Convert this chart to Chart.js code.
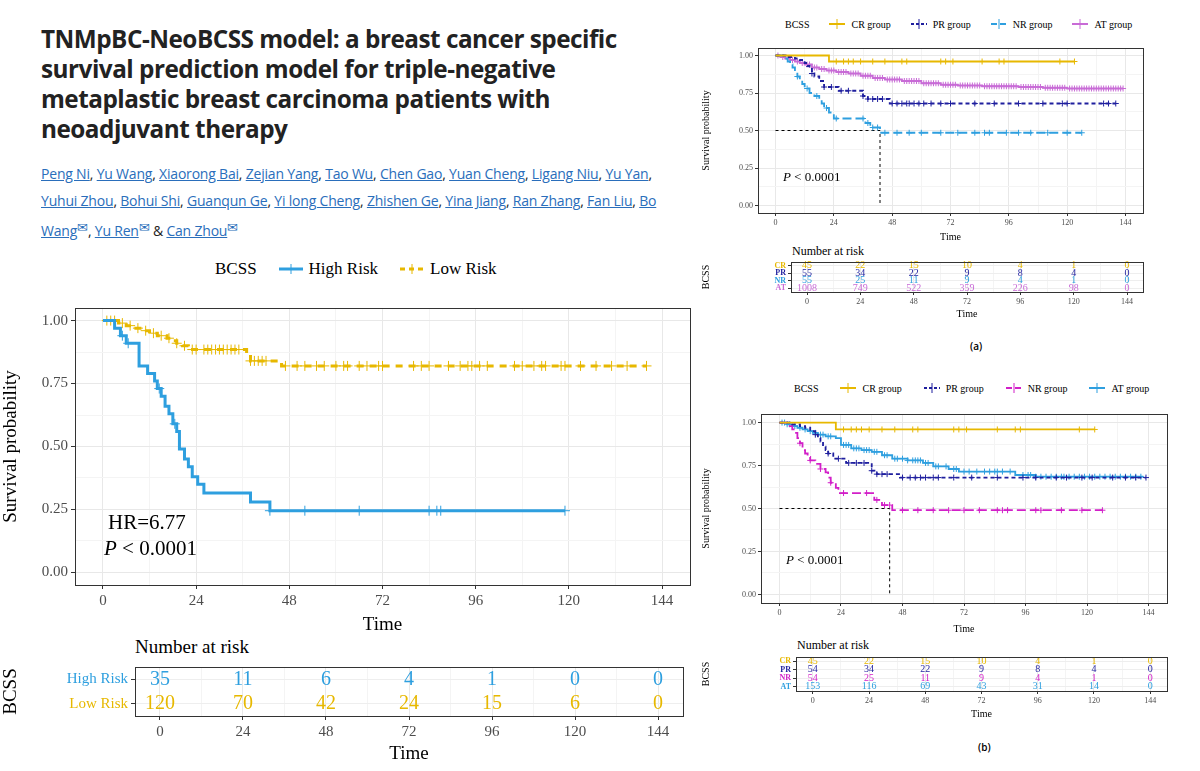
<!DOCTYPE html>
<html>
<head>
<meta charset="utf-8">
<script src="https://cdn.jsdelivr.net/npm/chart.js@4"></script>
<style>
  body { margin: 0; width: 1200px; height: 771px; background: #fff; position: relative; overflow: hidden; }
  canvas, .t { position: absolute; }
  .t { white-space: nowrap; font-family: "Liberation Serif", serif; color: #000; }
  h1 { position: absolute; left: 41px; top: 24px; margin: 0; font: 700 24.3px/30px "Open Sans", sans-serif; color: #222; letter-spacing: -0.5px; width: 640px; }
  .authors { position: absolute; left: 41px; top: 160px; width: 635px; font: 14px/27px "Open Sans", sans-serif; color: #222; letter-spacing: -0.2px; }
  .authors a { color: #2a6ebb; text-decoration: underline; }
  .authors b { color: #2a6ebb; font-weight: normal; font-size: 13px; vertical-align: 4px; }
  .leg { position: absolute; display: flex; align-items: center; font-family: "Liberation Serif", serif; white-space: nowrap; }
  .leg svg { margin: 0 6px 0 0; }
  .leg span.i { display: flex; align-items: center; }
  .cap { position: absolute; font: 600 10px "Open Sans", sans-serif; }
</style>
</head>
<body>
<h1>TNMpBC-NeoBCSS model: a breast cancer specific survival prediction model for triple-negative metaplastic breast carcinoma patients with neoadjuvant therapy</h1>
<div class="authors"><a>Peng Ni</a>, <a>Yu Wang</a>, <a>Xiaorong Bai</a>, <a>Zejian Yang</a>, <a>Tao Wu</a>, <a>Chen Gao</a>, <a>Yuan Cheng</a>, <a>Ligang Niu</a>, <a>Yu Yan</a>, <a>Yuhui Zhou</a>, <a>Bohui Shi</a>, <a>Guanqun Ge</a>, <a>Yi long Cheng</a>, <a>Zhishen Ge</a>, <a>Yina Jiang</a>, <a>Ran Zhang</a>, <a>Fan Liu</a>, <a>Bo Wang</a><b>&#x2709;</b>, <a>Yu Ren</a><b>&#x2709;</b> &amp; <a>Can Zhou</a><b>&#x2709;</b></div>

<div id="legMain" class="leg" style="left:215px;top:259px;font-size:17px;gap:22px"></div>
<canvas id="kmMain" width="700" height="340" style="left:0;top:296px"></canvas>
<div class="t" style="left:108px;top:510px;font-size:21px">HR=6.77</div>
<div class="t" style="left:104px;top:536px;font-size:21px"><i>P</i> &lt; 0.0001</div>
<div class="t" style="left:135px;top:636px;font-size:19px">Number at risk</div>
<canvas id="riskMain" width="693" height="110" style="left:0;top:655px"></canvas>

<div id="legA" class="leg" style="left:785px;top:18px;font-size:10px;gap:20px"></div>
<canvas id="kmA" width="450" height="203" style="left:700px;top:40px"></canvas>
<div class="t" style="left:783px;top:169px;font-size:13px"><i>P</i> &lt; 0.0001</div>
<div class="t" style="left:792px;top:244px;font-size:12px">Number at risk</div>
<canvas id="riskA" width="450" height="65" style="left:700px;top:255px"></canvas>
<div class="cap" style="left:970px;top:339px">(a)</div>

<div id="legB" class="leg" style="left:794px;top:382px;font-size:10px;gap:22px"></div>
<canvas id="kmB" width="474" height="230" style="left:700px;top:405px"></canvas>
<div class="t" style="left:786px;top:552px;font-size:13px"><i>P</i> &lt; 0.0001</div>
<div class="t" style="left:797px;top:638px;font-size:12px">Number at risk</div>
<canvas id="riskB" width="474" height="70" style="left:700px;top:650px"></canvas>
<div class="cap" style="left:978px;top:740px">(b)</div>

<script>
// ---- colours
const GOLD = '#E7B800', BLUE = '#2E9FDF', NAVY = '#1F1F9E', LILAC = '#C86BD6', MAGENTA = '#D21FC8';

// ---- main model: High vs Low risk
const highTimes = [3, 4.5, 6, 9.3, 11.5, 13.3, 14, 15, 16, 17, 18, 19, 19.7, 21, 22, 23, 24.4, 26, 38, 43];
const highSurv = [0.97, 0.94, 0.91, 0.82, 0.79, 0.76, 0.73, 0.70, 0.66, 0.63, 0.59, 0.56, 0.49, 0.45, 0.42, 0.38, 0.35, 0.315, 0.28, 0.245];
const highEnd = 119;
const highCens = [5, 6.5, 14.5, 18.5, 43, 52, 66, 84, 86, 87, 119];
const lowTimes = [4, 6, 8, 10, 12, 14, 16.5, 18, 19, 20.5, 22, 37, 38, 46];
const lowSurv = [0.99, 0.98, 0.97, 0.96, 0.95, 0.94, 0.93, 0.92, 0.91, 0.90, 0.885, 0.865, 0.84, 0.82];
const lowEnd = 140;
const lowCens = [1, 2, 3, 5, 7, 9, 11, 13, 15, 17, 19, 21, 23, 24, 26, 27, 28, 29, 30, 31, 32, 33, 34, 35, 38, 39, 40, 41, 42, 47, 50, 52, 55, 57, 60, 62, 63, 66, 68, 71, 72, 80, 82, 84, 89, 92, 94, 95, 97, 99, 106, 108, 111, 113, 114, 118, 119, 123, 127, 131, 135, 140];

// ---- panel (a)
const crTimes = [22], crSurv = [0.96], crEnd = 123;
const crCens = [25, 28, 30, 32, 35, 40, 45, 52, 54, 68, 70, 73, 85, 92, 94, 117, 123];
const prTimes = [5, 8, 10, 12, 13, 14, 15, 16, 18, 20, 26, 36, 38, 47];
const prSurv = [0.99, 0.98, 0.97, 0.95, 0.93, 0.91, 0.88, 0.86, 0.83, 0.79, 0.765, 0.73, 0.71, 0.68];
const prEnd = 140;
const prCens = [15, 20, 23, 27, 30, 36, 38, 40, 42, 44, 48, 50, 52, 54, 55, 57, 59, 61, 64, 68, 72, 82, 90, 100, 110, 118, 120, 135, 137, 140];
const nrTimes = [4, 5, 6, 7, 8, 9, 10, 11, 12, 14, 16, 18, 19, 20, 22, 24, 37, 39, 43];
const nrSurv = [0.98, 0.96, 0.94, 0.92, 0.89, 0.86, 0.84, 0.81, 0.78, 0.75, 0.73, 0.71, 0.68, 0.65, 0.62, 0.58, 0.55, 0.52, 0.485];
const nrEnd = 126;
const nrCens = [9, 13, 17, 21, 25, 36, 38, 40, 42, 45, 50, 55, 60, 68, 75, 82, 86, 88, 95, 100, 105, 112, 120, 126];
const atTimes = [2, 4, 6, 8, 10, 12, 15, 18, 21, 25, 30, 35, 40, 45, 52, 60, 68, 75, 85, 100, 110, 120];
const atSurv = [0.99, 0.98, 0.97, 0.96, 0.95, 0.94, 0.92, 0.91, 0.90, 0.89, 0.88, 0.865, 0.85, 0.84, 0.83, 0.815, 0.805, 0.80, 0.795, 0.79, 0.785, 0.78];
const atEnd = 143;
const atCens = [1, 3, 5, 7, 9, 11, 13, 14, 16, 17, 19, 20, 22, 23, 24, 26, 27, 28, 29, 31, 32, 33, 34, 36, 37, 38, 39, 41, 42, 43, 44, 46, 47, 48, 49, 50, 51, 53, 54, 55, 56, 57, 58, 59, 61, 62, 63, 64, 65, 66, 67, 69, 70, 71, 72, 73, 74, 76, 77, 78, 79, 80, 81, 82, 83, 84, 86, 87, 88, 89, 90, 91, 92, 93, 94, 95, 96, 97, 98, 99, 101, 102, 103, 104, 105, 106, 107, 108, 109, 111, 112, 113, 114, 115, 116, 117, 118, 119, 121, 122, 123, 124, 125, 126, 127, 128, 129, 130, 131, 132, 133, 134, 135, 136, 137, 138, 139, 140, 141, 142, 143];

// ---- panel (b)
const prbTimes = [5, 8, 10, 12, 14, 15, 16, 17, 18, 19, 21, 26, 36, 38, 47];
const prbSurv = [0.99, 0.98, 0.97, 0.95, 0.93, 0.91, 0.89, 0.86, 0.84, 0.82, 0.79, 0.765, 0.72, 0.70, 0.68];
const prbEnd = 143;
const prbCens = [14, 19, 23, 27, 30, 33, 36, 38, 40, 42, 48, 51, 53, 55, 57, 60, 62, 68, 75, 85, 95, 100, 108, 112, 118, 122, 130, 135, 139, 143];
const nrbTimes = [4, 5, 6, 7, 8, 9, 10, 11, 12, 14, 16, 18, 19, 20, 22, 23, 37, 40, 44];
const nrbSurv = [0.98, 0.96, 0.94, 0.91, 0.88, 0.84, 0.82, 0.80, 0.78, 0.76, 0.73, 0.71, 0.68, 0.65, 0.62, 0.59, 0.55, 0.52, 0.49];
const nrbEnd = 126;
const nrbCens = [8, 12, 16, 20, 25, 34, 38, 41, 43, 48, 54, 60, 66, 72, 78, 85, 87, 89, 100, 102, 110, 118, 126];
const atbTimes = [3, 5, 7, 9, 11, 13, 15, 18, 22, 24, 28, 32, 36, 40, 44, 50, 56, 60, 66, 70, 92, 100];
const atbSurv = [0.99, 0.98, 0.97, 0.96, 0.95, 0.94, 0.93, 0.92, 0.91, 0.87, 0.85, 0.84, 0.83, 0.81, 0.79, 0.78, 0.765, 0.745, 0.73, 0.715, 0.695, 0.685];
const atbEnd = 142;
const atbCens = [1, 2, 3, 4, 6, 8, 10, 12, 14, 16, 17, 19, 20, 25, 26, 27, 29, 30, 31, 33, 34, 35, 37, 38, 41, 42, 45, 46, 48, 50, 52, 53, 54, 55, 57, 58, 61, 62, 65, 68, 69, 72, 74, 77, 80, 82, 84, 85, 87, 90, 95, 97, 98, 100, 102, 104, 106, 108, 110, 111, 113, 115, 117, 119, 121, 123, 125, 127, 129, 131, 133, 135, 137, 139, 141];

const medianTime = 43;

// ---- number at risk
const riskTimes = [0, 24, 48, 72, 96, 120, 144];
const riskMainLabels = ['High Risk', 'Low Risk'];
const riskMain = [[35, 11, 6, 4, 1, 0, 0], [120, 70, 42, 24, 15, 6, 0]];
const riskALabels = ['CR', 'PR', 'NR', 'AT'];
const riskA = [[45, 22, 15, 10, 4, 1, 0], [55, 34, 22, 9, 8, 4, 0], [55, 25, 11, 9, 4, 1, 0], [1008, 749, 522, 359, 226, 98, 0]];
const riskB = [[45, 22, 15, 10, 4, 1, 0], [54, 34, 22, 9, 8, 4, 0], [54, 25, 11, 9, 4, 1, 0], [153, 116, 69, 43, 31, 14, 0]];

// ---- axis breaks (major + minor grid)
const xBreaks = [0, 12, 24, 36, 48, 60, 72, 84, 96, 108, 120, 132, 144];
const yBreaks = [0, 0.125, 0.25, 0.375, 0.5, 0.625, 0.75, 0.875, 1];

// ---- helpers
function kmPoints(times, surv, end) {
  const pts = [{ x: 0, y: 1 }];
  times.forEach((t, i) => pts.push({ x: t, y: surv[i] }));
  pts.push({ x: end, y: surv[surv.length - 1] });
  return pts;
}
function survAt(times, surv, t) {
  let s = 1;
  times.forEach((tt, i) => { if (tt <= t) s = surv[i]; });
  return s;
}

const boxPlugin = {
  id: 'box',
  afterDraw(chart) {
    const a = chart.chartArea, c = chart.ctx;
    c.save(); c.strokeStyle = '#333'; c.lineWidth = 1;
    c.strokeRect(Math.round(a.left) + 0.5, Math.round(a.top) + 0.5, Math.round(a.right - a.left), Math.round(a.bottom - a.top));
    c.restore();
  }
};

const isMult = (v, s) => Math.abs(v / s - Math.round(v / s)) < 1e-6;

function xScale(o) {
  return {
    type: 'linear', min: -7.2, max: 151.2,
    afterBuildTicks: s => { s.ticks = xBreaks.map(v => ({ value: v })); },
    afterFit: s => { s.height = o.xH; },
    ticks: { autoSkip: false, maxRotation: 0, color: '#4d4d4d', padding: o.tickPad,
      font: { family: 'Liberation Serif', size: o.tick },
      callback: v => isMult(v, 24) ? v : '' },
    grid: { color: c => isMult(c.tick.value, 24) ? '#e8e8e8' : '#f4f4f4',
      tickColor: c => isMult(c.tick.value, 24) ? '#333' : 'rgba(0,0,0,0)', tickLength: o.tickLen },
    border: { display: false },
    title: { display: true, text: 'Time', color: '#000', padding: 0, font: { family: 'Liberation Serif', size: o.title } }
  };
}

function kmChart(id, o) {
  const datasets = [];
  o.curves.forEach(c => {
    datasets.push({ data: kmPoints(c.times, c.surv, c.end), borderColor: c.color, borderWidth: o.lw,
      borderDash: c.dash || [], stepped: true, pointRadius: 0, fill: false });
    datasets.push({ data: c.cens.map(t => ({ x: t, y: survAt(c.times, c.surv, t) })), showLine: false,
      pointStyle: 'cross', pointRadius: o.cr, borderColor: c.color, pointBorderWidth: 1, borderWidth: 1 });
  });
  if (o.median) {
    datasets.push({ data: [{ x: 0, y: 0.5 }, { x: o.median, y: 0.5 }, { x: o.median, y: 0 }], borderColor: '#000',
      borderWidth: 1, borderDash: [3, 3], pointRadius: 0 });
  }
  new Chart(document.getElementById(id), {
    type: 'line',
    data: { datasets },
    options: {
      responsive: false, animation: false, events: [],
      layout: { padding: { top: o.pt, right: o.pr, left: 0, bottom: 0 } },
      plugins: { legend: { display: false }, tooltip: { enabled: false } },
      scales: {
        x: xScale(o),
        y: {
          min: -0.05, max: 1.05,
          afterBuildTicks: s => { s.ticks = yBreaks.map(v => ({ value: v })); },
          afterFit: s => { s.width = o.yW; },
          ticks: { autoSkip: false, color: '#4d4d4d', padding: o.tickPad, font: { family: 'Liberation Serif', size: o.tick },
            callback: v => isMult(v, 0.25) ? v.toFixed(2) : '' },
          grid: { color: c => isMult(c.tick.value, 0.25) ? '#e8e8e8' : '#f4f4f4',
            tickColor: c => isMult(c.tick.value, 0.25) ? '#333' : 'rgba(0,0,0,0)', tickLength: o.tickLen },
          border: { display: false },
          title: { display: true, text: 'Survival probability', color: '#000', padding: 0, font: { family: 'Liberation Serif', size: o.title } }
        }
      }
    },
    plugins: [boxPlugin]
  });
}

function riskChart(id, labels, rows, colors, o) {
  new Chart(document.getElementById(id), {
    type: 'line',
    data: { labels, datasets: [] },
    options: {
      responsive: false, animation: false, events: [],
      layout: { padding: { top: o.pt, right: o.pr, left: 0, bottom: 0 } },
      plugins: { legend: { display: false }, tooltip: { enabled: false } },
      scales: {
        x: xScale(o),
        y: {
          type: 'category', labels, offset: true,
          afterFit: s => { s.width = o.yW; },
          ticks: { autoSkip: false, color: c => colors[c.index], padding: o.tickPad, font: { family: 'Liberation Serif', size: o.lab, weight: o.labW } },
          grid: { color: '#eeeeee', tickColor: '#333', tickLength: o.tickLen },
          border: { display: false },
          title: { display: true, text: 'BCSS', color: '#000', padding: 0, font: { family: 'Liberation Serif', size: o.title } }
        }
      }
    },
    plugins: [boxPlugin, {
      id: 'nums',
      afterDatasetsDraw(chart) {
        const c = chart.ctx, x = chart.scales.x, y = chart.scales.y;
        c.save(); c.textAlign = 'center'; c.textBaseline = 'middle';
        c.font = o.num + 'px "Liberation Serif"';
        rows.forEach((r, i) => {
          c.fillStyle = colors[i];
          r.forEach((v, j) => c.fillText(v, x.getPixelForValue(riskTimes[j]), y.getPixelForValue(i)));
        });
        c.restore();
      }
    }]
  });
}

function legend(id, items, w, lw) {
  const el = document.getElementById(id);
  let html = '<span>BCSS</span>';
  items.forEach(it => {
    const dash = it.dash ? `stroke-dasharray="${it.dash.join(',')}"` : '';
    html += `<span class="i"><svg width="${w}" height="12"><line x1="0" y1="6" x2="${w}" y2="6" stroke="${it.color}" stroke-width="${lw}" ${dash}/>` +
      `<line x1="${w / 2}" y1="1" x2="${w / 2}" y2="11" stroke="${it.color}" stroke-width="1"/></svg>${it.label}</span>`;
  });
  el.innerHTML = html;
}

// ---- main chart
const mainCurves = [
  { times: highTimes, surv: highSurv, end: highEnd, cens: highCens, color: BLUE },
  { times: lowTimes, surv: lowSurv, end: lowEnd, cens: lowCens, color: GOLD, dash: [7, 6] }
];
kmChart('kmMain', { curves: mainCurves, lw: 3, cr: 5, yW: 75, xH: 51, pt: 10, pr: 10, tick: 15, title: 19, tickPad: 3, tickLen: 4 });
riskChart('riskMain', riskMainLabels, riskMain, [BLUE, GOLD],
  { yW: 135, xH: 49, pt: 10, pr: 10, tick: 15, title: 19, tickPad: 3, tickLen: 4, lab: 15, labW: 'normal', num: 20 });
legend('legMain', [{ label: 'High Risk', color: BLUE }, { label: 'Low Risk', color: GOLD, dash: [5, 4] }], 24, 3);

// ---- panel (a)
const curvesA = [
  { times: crTimes, surv: crSurv, end: crEnd, cens: crCens, color: GOLD },
  { times: prTimes, surv: prSurv, end: prEnd, cens: prCens, color: NAVY, dash: [4, 3] },
  { times: nrTimes, surv: nrSurv, end: nrEnd, cens: nrCens, color: BLUE, dash: [9, 4] },
  { times: atTimes, surv: atSurv, end: atEnd, cens: atCens, color: LILAC }
];
kmChart('kmA', { curves: curvesA, lw: 1.8, cr: 3, yW: 58, xH: 30, pt: 8, pr: 7, tick: 8, title: 10, tickPad: 2, tickLen: 3, median: medianTime });
riskChart('riskA', riskALabels, riskA, [GOLD, NAVY, BLUE, LILAC],
  { yW: 91, xH: 28, pt: 7, pr: 7, tick: 8, title: 10, tickPad: 2, tickLen: 3, lab: 8, labW: 'bold', num: 10 });
legend('legA', [{ label: 'CR group', color: GOLD }, { label: 'PR group', color: NAVY, dash: [3, 2] },
  { label: 'NR group', color: BLUE, dash: [6, 3] }, { label: 'AT group', color: LILAC }], 16, 2);

// ---- panel (b)
const curvesB = [
  { times: crTimes, surv: crSurv, end: crEnd, cens: crCens, color: GOLD },
  { times: prbTimes, surv: prbSurv, end: prbEnd, cens: prbCens, color: NAVY, dash: [4, 3] },
  { times: nrbTimes, surv: nrbSurv, end: nrbEnd, cens: nrbCens, color: MAGENTA, dash: [9, 4] },
  { times: atbTimes, surv: atbSurv, end: atbEnd, cens: atbCens, color: BLUE }
];
kmChart('kmB', { curves: curvesB, lw: 1.8, cr: 3, yW: 61, xH: 32, pt: 9, pr: 7, tick: 8, title: 10, tickPad: 2, tickLen: 3, median: medianTime });
riskChart('riskB', riskALabels, riskB, [GOLD, NAVY, MAGENTA, BLUE],
  { yW: 96, xH: 29, pt: 7, pr: 7, tick: 8, title: 10, tickPad: 2, tickLen: 3, lab: 8, labW: 'bold', num: 10 });
legend('legB', [{ label: 'CR group', color: GOLD }, { label: 'PR group', color: NAVY, dash: [3, 2] },
  { label: 'NR group', color: MAGENTA, dash: [6, 3] }, { label: 'AT group', color: BLUE }], 16, 2);
</script>
</body>
</html>
